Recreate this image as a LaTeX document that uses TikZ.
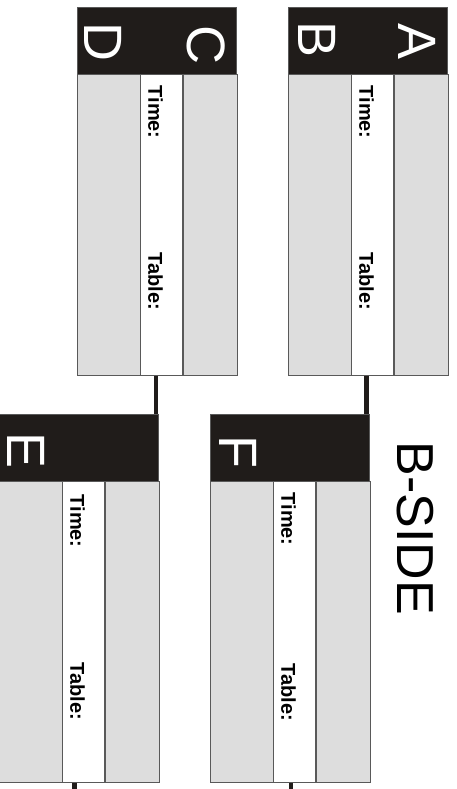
\documentclass[tikz,border=0pt]{standalone}
\usepackage{fontspec}
\setmainfont{Liberation Sans}
\usetikzlibrary{positioning}
\definecolor{ink}{RGB}{32,28,26}
\definecolor{panel}{RGB}{221,221,221}

\begin{document}
\begin{tikzpicture}[x=1pt,y=-1pt,
  head/.style={draw=black!65,fill=ink,minimum width=159pt,minimum height=67pt,inner sep=0pt,anchor=north west},
  side/.style={draw=black!65,fill=panel,minimum height=301pt,inner sep=0pt},
  slot/.style={draw=black!65,fill=white,minimum width=42pt,minimum height=301pt,inner sep=0pt},
  team/.style={text=white,rotate=-90,inner sep=0pt,font=\fontsize{54}{60}\selectfont},
  field/.style={rotate=-90,anchor=west,inner sep=0pt,font=\bfseries\fontsize{20}{23}\selectfont},
  link/.style={draw=ink,line width=4.8pt}]
\useasboundingbox (0,0) rectangle (456,789);

% first round: A v B
\node[head] (abh) at (288,7) {};
\node[side,minimum width=63pt,below right=0pt of abh.south west] (abl) {};
\node[slot,right=0pt of abl] (abw) {};
\node[side,minimum width=54pt,right=0pt of abw] (abr) {};
\node[team] (ta) at (417,42) {A};
\node[team] (tb) at (317,40) {B};
\node[field] (abtime) at ([xshift=-6pt,yshift=-11pt]abw.north) {Time:};
\node[field] (abtable) at ([xshift=-6pt,yshift=-178pt]abw.north) {Table:};

% first round: C v D
\node[head] (cdh) at (77,7) {};
\node[side,minimum width=63pt,below right=0pt of cdh.south west] (cdl) {};
\node[slot,right=0pt of cdl] (cdw) {};
\node[side,minimum width=54pt,right=0pt of cdw] (cdr) {};
\node[team] (tc) at (206.5,45) {C};
\node[team] (td) at (103,42) {D};
\node[field] (cdtime) at ([xshift=-6pt,yshift=-11pt]cdw.north) {Time:};
\node[field] (cdtable) at ([xshift=-6pt,yshift=-178pt]cdw.north) {Table:};

% second round: F
\node[head] (fh) at (210,414) {};
\node[side,minimum width=63pt,below right=0pt of fh.south west] (fl) {};
\node[slot,right=0pt of fl] (fw) {};
\node[side,minimum width=54pt,right=0pt of fw] (fr) {};
\node[team] (tf) at (238,451.5) {F};
\node[field] (ftime) at ([xshift=-6pt,yshift=-11pt]fw.north) {Time:};
\node[field] (ftable) at ([xshift=-6pt,yshift=-182pt]fw.north) {Table:};

% second round: E
\node[head] (eh) at (-1,414) {};
\node[side,minimum width=63pt,below right=0pt of eh.south west] (el) {};
\node[slot,right=0pt of el] (ew) {};
\node[side,minimum width=54pt,right=0pt of ew] (er) {};
\node[team] (te) at (26.5,450.5) {E};
\node[field] (etime) at ([xshift=-6pt,yshift=-13pt]ew.north) {Time:};
\node[field] (etable) at ([xshift=-6pt,yshift=-181pt]ew.north) {Table:};

\node[rotate=-90,inner sep=0pt,font=\fontsize{52}{58}\selectfont] (title) at (415.5,528.5) {B-SIDE};

% links
\coordinate (fin) at ([xshift=-3pt]fh.north east);
\coordinate (ein) at ([xshift=-2.5pt]eh.north east);
\coordinate (fout) at (291,789);
\coordinate (eout) at (74.5,789);
\draw[link] (abw.south -| fin) -- (fin);
\draw[link] (cdw.south -| ein) -- (ein);
\draw[link] (fw.south -| fout) -- (fout);
\draw[link] (ew.south -| eout) -- (eout);
\end{tikzpicture}
\end{document}
